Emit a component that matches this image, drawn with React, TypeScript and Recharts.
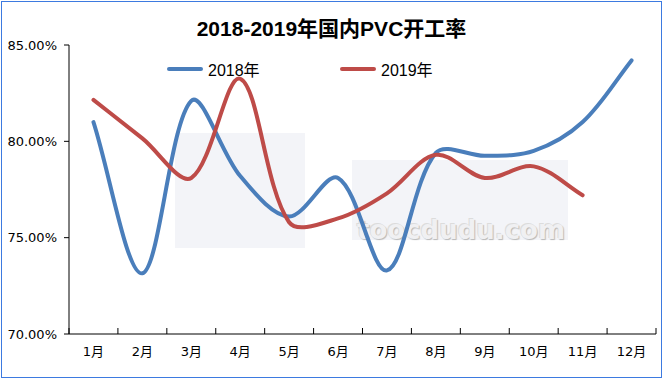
import { LineChart, Line, XAxis, YAxis, Legend } from "recharts";

const months = ["1月", "2月", "3月", "4月", "5月", "6月", "7月", "8月", "9月", "10月", "11月", "12月"];
const rate2018 = [81.0, 73.15, 82.1, 78.2, 76.1, 78.1, 73.3, 79.4, 79.25, 79.5, 81.0, 84.2];
const rate2019 = [82.15, 80.15, 78.1, 83.25, 75.8, 76.0, 77.3, 79.3, 78.1, 78.7, 77.2, null];
const yTicks = [70, 75, 80, 85];

const BLUE = "#4a7ebb";
const RED = "#be4b48";
const FONT = "'DejaVu Sans', 'Noto Sans CJK SC', sans-serif";

const W = 663, H = 380;
const M = { top: 45, right: 7, left: 0, bottom: 16 };
const Y_W = 69;
const PLOT_W = W - M.left - M.right - Y_W;
const TICK_MARGIN = 13;

const data = months.map((m, i) => ({ month: m, y2018: rate2018[i], y2019: rate2019[i] }));

// excel-like smoothed line: bezier through the points, arms scaled by segment length
function excelCurve(context: any) {
  let pts: number[][] = [];
  const dist = (a: number[], b: number[]) => Math.hypot(b[0] - a[0], b[1] - a[1]);
  return {
    areaStart() {},
    areaEnd() {},
    lineStart() { pts = []; },
    point(x: number, y: number) { pts.push([+x, +y]); },
    lineEnd() {
      const n = pts.length;
      if (!n) return;
      context.moveTo(pts[0][0], pts[0][1]);
      for (let i = 0; i < n - 1; i++) {
        const p0 = pts[i - 1] || pts[i];
        const p1 = pts[i];
        const p2 = pts[i + 1];
        const p3 = pts[i + 2] || p2;
        const d01 = dist(p0, p1), d12 = dist(p1, p2), d23 = dist(p2, p3);
        const f1 = d01 + d12 > 0 ? d12 / (d01 + d12) / 3 : 0;
        const f2 = d12 + d23 > 0 ? d12 / (d12 + d23) / 3 : 0;
        context.bezierCurveTo(
          p1[0] + (p2[0] - p0[0]) * f1, p1[1] + (p2[1] - p0[1]) * f1,
          p2[0] - (p3[0] - p1[0]) * f2, p2[1] - (p3[1] - p1[1]) * f2,
          p2[0], p2[1]
        );
      }
    },
  };
}

// month label plus the small inner tick at the band edges
function MonthTick({ x, y, payload, index }: any) {
  const half = PLOT_W / months.length / 2;
  const axisY = y - TICK_MARGIN;
  return (
    <g>
      <line x1={x + half} x2={x + half} y1={axisY} y2={axisY - 6} stroke="#000" />
      {index === 0 && <line x1={x - half} x2={x - half} y1={axisY} y2={axisY - 6} stroke="#000" />}
      <text x={x} y={y} dy="0.71em" textAnchor="middle" fontSize={13} fill="#000" fontFamily={FONT}>{payload.value}</text>
    </g>
  );
}

function LegendContent({ payload }: any) {
  return (
    <div style={{ position: "relative", height: 24, width: W }}>
      {(payload || []).map((p: any, i: number) => (
        <div key={p.value} style={{ position: "absolute", left: 167 + i * 173, top: 0, display: "flex", alignItems: "center" }}>
          <span style={{ display: "inline-block", width: 36, height: 4, borderRadius: 2, background: p.color, marginRight: 5 }} />
          <span style={{ fontSize: 16, color: "#000", fontFamily: "'Liberation Sans', 'Noto Sans CJK SC', sans-serif" }}>{p.value}</span>
        </div>
      ))}
    </div>
  );
}

export default function App() {
  return (
    <div style={{ position: "absolute", left: 0, top: 0, width: W, height: H, background: "#fff", fontFamily: FONT }}>
      {/* watermark */}
      <div style={{ position: "absolute", left: 175, top: 133, width: 130, height: 115, background: "#f3f4f8" }} />
      <div style={{ position: "absolute", left: 352, top: 160, width: 216, height: 80, background: "#f3f4f8" }} />
      <div style={{ position: "absolute", left: 350, top: 215, width: 222, textAlign: "center", fontSize: 26, fontWeight: 700, color: "#f0f0f2", textShadow: "1px 1px 1px #b8b8b8, -1px -1px 0 #dcdcdc", fontFamily: "'DejaVu Sans', sans-serif" }}>toocdudu.com</div>

      <div style={{ position: "absolute", left: 0, top: 12, width: W, textAlign: "center", fontSize: 21, fontWeight: 700, color: "#000", fontFamily: "'Liberation Sans', 'Noto Sans CJK SC', sans-serif" }}>
        2018-2019年国内PVC开工率
      </div>

      <div style={{ position: "absolute", left: 0, top: 0 }}>
        <LineChart width={W} height={H} data={data} margin={M}>
          <XAxis dataKey="month" scale="band" height={30} axisLine={{ stroke: "#000" }} tickLine={false} tickSize={0}
            tickMargin={TICK_MARGIN} interval={0} tick={<MonthTick />} />
          <YAxis domain={[70, 85]} ticks={yTicks} width={Y_W} tickSize={5} tickMargin={7}
            tickFormatter={(v) => `${Number(v).toFixed(2)}%`}
            axisLine={{ stroke: "#000" }} tickLine={{ stroke: "#000" }}
            tick={{ fontSize: 13, fill: "#000", fontFamily: FONT }} />
          <Legend verticalAlign="middle" align="center" layout="horizontal" content={LegendContent}
            wrapperStyle={{ top: 57, left: 0, width: W }} />
          <Line dataKey="y2018" name="2018年" type={excelCurve as any} stroke={BLUE} strokeWidth={4}
            strokeLinecap="round" dot={false} activeDot={false} isAnimationActive={false} />
          <Line dataKey="y2019" name="2019年" type={excelCurve as any} stroke={RED} strokeWidth={4}
            strokeLinecap="round" dot={false} activeDot={false} isAnimationActive={false} />
        </LineChart>
      </div>

      <div style={{ position: "absolute", left: 1, top: 1, width: 661, height: 377, boxSizing: "border-box", border: "1px solid #3d7ae0", pointerEvents: "none" }} />
    </div>
  );
}
